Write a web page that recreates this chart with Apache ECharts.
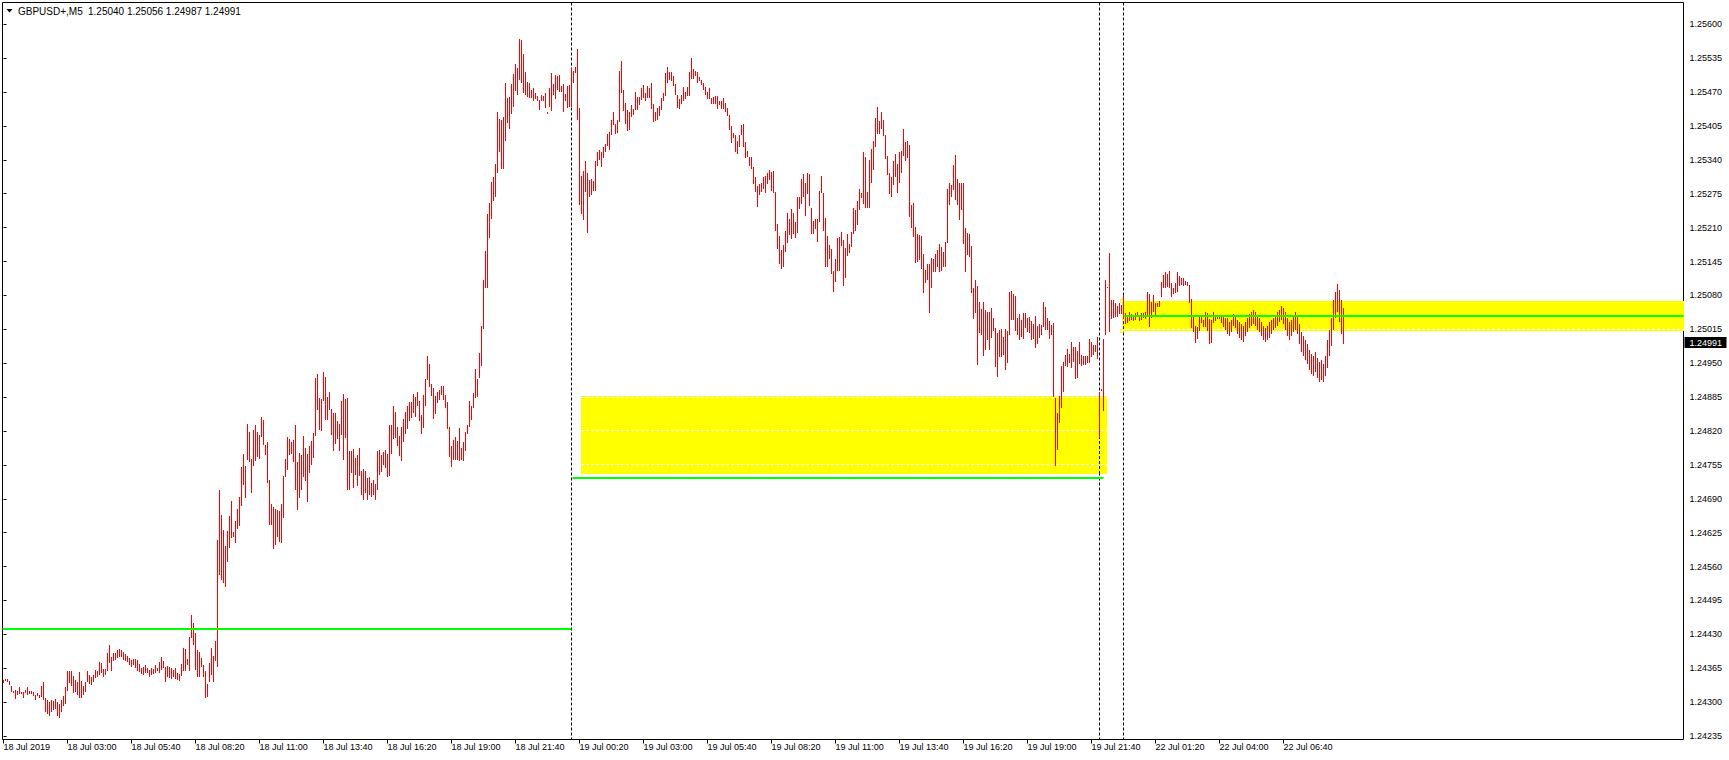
<!DOCTYPE html>
<html>
<head>
<meta charset="utf-8">
<title>GBPUSD+,M5</title>
<script src="https://cdn.jsdelivr.net/npm/echarts@6.0.0/dist/echarts.min.js"></script>
<style>
html,body{margin:0;padding:0;background:#fff;overflow:hidden}
#chart{width:1729px;height:760px}
</style>
</head>
<body>
<div id="chart"></div>
<script>
// ---------------- data ----------------
const symbolLabel = 'GBPUSD+,M5';
const ohlcLabel = '1.25040 1.25056 1.24987 1.24991';
const lastPrice = 1.24991;
// bar values are given in points (0.00001) above 1.20000; bar index 0 = 18 Jul 2019 00:20, 5-minute bars
const PRICE_BASE = 1.2;
const POINT = 0.00001;
const highPts = [
4343,4344,4345,4341,4331,4322,4324,4322,4329,4319,
4320,4324,4329,4322,4322,4319,4314,4317,4314,4331,
4339,4308,4304,4300,4304,4302,4306,4300,4297,4304,
4311,4329,4360,4360,4360,4350,4343,4339,4357,4341,
4331,4339,4360,4352,4349,4352,4362,4360,4376,4375,
4364,4364,4395,4409,4386,4394,4395,4400,4402,4399,
4396,4392,4389,4384,4381,4382,4383,4380,4373,4365,
4367,4372,4365,4362,4365,4363,4372,4365,4376,4386,
4378,4368,4370,4367,4365,4362,4365,4356,4354,4373,
4403,4402,4383,4424,4467,4451,4432,4400,4396,4384,
4371,4360,4334,4375,4403,4389,4418,4610,4707,4658,
4630,4600,4629,4656,4686,4627,4648,4671,4694,4750,
4776,4752,4834,4819,4766,4822,4832,4818,4813,4847,
4841,4793,4798,4726,4680,4674,4671,4669,4667,4680,
4733,4767,4809,4805,4798,4802,4832,4761,4777,4774,
4811,4787,4776,4791,4801,4816,4922,4930,4883,4882,
4933,4924,4886,4895,4862,4855,4854,4839,4834,4878,
4891,4882,4884,4782,4782,4786,4769,4774,4787,4744,
4747,4744,4730,4731,4721,4726,4718,4782,4784,4774,
4779,4784,4776,4832,4832,4868,4856,4828,4811,4828,
4843,4856,4868,4876,4876,4891,4885,4894,4878,4850,
4889,4920,4964,4949,4910,4902,4888,4894,4899,4907,
4906,4889,4875,4827,4792,4802,4808,4800,4825,4788,
4798,4819,4832,4878,4868,4892,4939,4920,4969,5022,
5110,5165,5236,5258,5298,5307,5332,5431,5418,5417,
5422,5488,5458,5460,5486,5504,5524,5517,5572,5570,
5543,5509,5490,5488,5474,5478,5469,5463,5455,5464,
5463,5468,5431,5478,5507,5485,5503,5500,5503,5482,
5485,5466,5482,5484,5517,5511,5518,5553,5439,5309,
5319,5338,5315,5302,5303,5300,5338,5356,5359,5356,
5364,5371,5390,5394,5417,5431,5409,5417,5511,5530,
5474,5449,5436,5431,5445,5438,5471,5460,5461,5478,
5484,5469,5482,5478,5488,5447,5432,5440,5444,5459,
5469,5507,5518,5509,5509,5500,5486,5464,5457,5464,
5480,5470,5480,5509,5535,5514,5511,5509,5498,5493,
5488,5480,5471,5477,5458,5461,5463,5463,5452,5452,
5459,5450,5439,5426,5405,5392,5388,5376,5388,5406,
5408,5375,5357,5346,5346,5327,5308,5290,5294,5296,
5308,5309,5315,5321,5317,5319,5279,5217,5194,5167,
5177,5204,5238,5227,5246,5238,5220,5268,5268,5303,
5312,5295,5315,5313,5248,5223,5227,5227,5281,5309,
5277,5229,5194,5176,5169,5127,5150,5191,5192,5202,
5186,5171,5198,5179,5202,5248,5244,5262,5284,5276,
5356,5345,5278,5339,5361,5376,5421,5442,5415,5431,
5417,5388,5348,5315,5308,5338,5351,5332,5356,5357,
5399,5375,5376,5369,5254,5258,5212,5198,5196,5194,
5159,5129,5140,5140,5151,5149,5159,5167,5179,5172,
5164,5182,5284,5296,5292,5330,5349,5303,5296,5296,
5296,5209,5199,5198,5175,5095,5110,5099,5068,5054,
5068,5052,5048,5049,5055,5036,5017,5008,5014,5016,
5001,5016,5012,5086,5089,5083,5079,5037,5045,5032,
5046,5047,5036,5038,5031,5025,5041,5022,5025,5023,
5068,5057,5036,5031,5023,5028,4884,4855,4887,4945,
4952,4965,4977,4967,4990,4982,4981,4974,4990,4965,
4963,4964,4964,4997,4991,4984,4985,5001,4894,4900,
4997,5110,5097,5162,5071,5071,5066,5060,5065,5062,
5080,5047,5039,5049,5044,5039,5046,5049,5043,5047,
5046,5049,5087,5082,5068,5080,5066,5065,5069,5105,
5119,5125,5121,5127,5103,5095,5103,5124,5118,5113,
5113,5108,5105,5100,5073,5038,5022,5019,5043,5043,
5033,5049,5047,5034,5033,5048,5043,5043,5043,5043,
5039,5037,5037,5029,5033,5045,5041,5033,5029,5025,
5022,5029,5037,5045,5048,5052,5048,5041,5037,5029,
5022,5018,5022,5029,5033,5037,5041,5048,5052,5060,
5056,5048,5037,5029,5033,5041,5048,5041,5025,5010,
5002,4995,4987,4976,4968,4964,4972,4960,4953,4956,
4949,4964,4995,5014,5037,5071,5087,5102,5091,5071,5056
];
const lowPts = [
4336,4341,4338,4333,4319,4317,4306,4314,4315,4315,
4308,4317,4314,4315,4316,4312,4304,4311,4308,4310,
4304,4281,4278,4274,4281,4285,4287,4274,4270,4281,
4293,4297,4322,4336,4330,4317,4320,4314,4308,4308,
4314,4320,4339,4334,4333,4339,4346,4349,4352,4356,
4349,4352,4359,4375,4359,4378,4381,4384,4387,4386,
4381,4379,4376,4372,4368,4372,4366,4360,4357,4354,
4352,4356,4356,4348,4352,4354,4356,4359,4356,4362,
4365,4339,4349,4347,4344,4349,4344,4343,4341,4351,
4360,4359,4372,4360,4423,4410,4362,4349,4349,4368,
4349,4308,4309,4339,4352,4339,4378,4368,4544,4535,
4528,4520,4568,4595,4614,4616,4606,4632,4637,4676,
4717,4692,4765,4761,4701,4752,4763,4771,4766,4808,
4793,4774,4721,4640,4639,4594,4602,4616,4608,4606,
4654,4731,4745,4774,4776,4761,4706,4669,4692,4707,
4731,4724,4683,4740,4755,4769,4811,4860,4822,4820,
4878,4841,4841,4860,4813,4781,4795,4805,4782,4813,
4765,4806,4707,4707,4739,4711,4736,4715,4733,4697,
4688,4701,4688,4697,4694,4697,4688,4707,4736,4742,
4755,4749,4731,4733,4776,4805,4806,4791,4772,4763,
4798,4814,4823,4840,4844,4855,4846,4867,4839,4814,
4825,4867,4917,4905,4887,4843,4852,4874,4880,4889,
4880,4864,4823,4771,4750,4765,4765,4765,4763,4765,
4763,4782,4814,4827,4841,4865,4883,4886,4922,4945,
5015,5095,5095,5190,5227,5262,5269,5314,5356,5323,
5322,5377,5410,5399,5427,5442,5472,5464,5493,5487,
5469,5464,5461,5459,5458,5452,5457,5452,5436,5452,
5452,5439,5428,5442,5434,5464,5457,5474,5471,5471,
5431,5453,5440,5442,5442,5488,5507,5417,5254,5236,
5225,5279,5200,5268,5273,5281,5281,5328,5340,5327,
5344,5356,5367,5358,5388,5407,5390,5391,5413,5469,
5434,5409,5396,5397,5423,5426,5436,5436,5445,5455,
5459,5452,5458,5459,5438,5413,5415,5417,5425,5436,
5453,5463,5488,5493,5491,5482,5464,5440,5438,5447,
5453,5456,5463,5463,5496,5496,5500,5488,5492,5484,
5474,5464,5456,5456,5447,5447,5447,5438,5445,5438,
5438,5432,5424,5397,5373,5381,5356,5351,5365,5388,
5365,5344,5346,5328,5322,5294,5279,5250,5273,5279,
5284,5277,5293,5302,5280,5276,5204,5169,5140,5131,
5135,5164,5181,5196,5188,5198,5191,5199,5246,5255,
5268,5233,5275,5252,5198,5198,5207,5183,5220,5276,
5204,5135,5135,5150,5121,5087,5105,5127,5126,5174,
5099,5113,5156,5161,5172,5198,5204,5215,5244,5266,
5255,5247,5248,5248,5296,5321,5364,5390,5389,5399,
5385,5342,5311,5275,5269,5292,5307,5277,5295,5315,
5348,5337,5344,5231,5209,5192,5142,5145,5148,5131,
5085,5103,5110,5047,5094,5124,5124,5135,5124,5126,
5135,5135,5181,5254,5268,5282,5263,5254,5225,5244,
5178,5125,5158,5154,5085,5035,5047,4947,5008,5004,
4963,4976,4995,4976,4998,5012,4942,4923,4961,4961,
4966,4937,4950,5004,5032,5032,5011,5004,4995,5001,
4997,5017,5009,5008,4995,4997,4980,4987,4998,5004,
5020,5014,5014,4996,5004,4886,4753,4784,4835,4865,
4894,4944,4942,4950,4940,4953,4919,4921,4949,4945,
4947,4947,4950,4950,4962,4966,4972,4958,4807,4897,
4859,5004,5094,5009,5034,5036,5038,5039,5045,5045,
5034,5025,5027,5030,5033,5031,5032,5039,5030,5033,
5036,5035,5039,5020,5037,5048,5041,5057,5057,5077,
5094,5095,5097,5095,5077,5082,5084,5087,5099,5100,
5099,5100,5099,5066,5017,5009,4988,4997,5011,5027,
5020,5020,5011,4986,4988,5027,5030,5034,5034,5027,
5019,5014,5006,5002,5010,5022,5018,5006,4999,4995,
4991,5002,5010,5018,5022,5025,5022,5014,5010,5002,
4995,4991,4995,4999,5006,5014,5018,5022,5029,5033,
5025,5014,5002,4995,5002,5010,5014,5006,4987,4972,
4964,4956,4949,4937,4929,4926,4933,4922,4914,4918,
4914,4926,4941,4964,4983,5014,5037,5048,5029,5006,4987
];
const yTickValues = [1.24235,1.24300,1.24365,1.24430,1.24495,1.24560,1.24625,1.24690,1.24755,1.24820,1.24885,
                     1.24950,1.25015,1.25080,1.25145,1.25210,1.25275,1.25340,1.25405,1.25470,1.25535,1.25600];
const xTickBars = [0,32,64,96,128,160,192,224,256,288,320,352,384,416,448,480,512,544,576,608,640];
const xTickLabels = ['18 Jul 2019','18 Jul 03:00','18 Jul 05:40','18 Jul 08:20','18 Jul 11:00','18 Jul 13:40',
  '18 Jul 16:20','18 Jul 19:00','18 Jul 21:40','19 Jul 00:20','19 Jul 03:00','19 Jul 05:40','19 Jul 08:20',
  '19 Jul 11:00','19 Jul 13:40','19 Jul 16:20','19 Jul 19:00','19 Jul 21:40','22 Jul 01:20','22 Jul 04:00','22 Jul 06:40'];
// visible window (bars) and price window of the chart
const X_MIN = -0.5, X_MAX = 840;
const Y_MIN = 1.242283, Y_MAX = 1.256418;
// drawn objects
const levelLines = [
  {from: X_MIN, to: 284, price: 1.24440},
  {from: 284.5, to: 550, price: 1.24730},
  {from: 560, to: X_MAX, price: 1.25041}
];
const zones = [
  {from: 288.75, to: 551.6, top: 1.24887, bottom: 1.24738, handles: false},
  {from: 559.1, to: X_MAX, top: 1.25069, bottom: 1.25011, handles: true}
];
const separators = [284, 548, 560];

// ---------------- styles ----------------
const BAR_COLOR = '#ff0000';
const LEVEL_COLOR = '#00ff00';
const ZONE_COLOR = '#ffff00';
const FONT = 'Liberation Sans, Arial, sans-serif';

const n = Math.min(highPts.length, lowPts.length);
const barData = [];
for (let i = 0; i < n; i++) {
  barData.push([i, +(PRICE_BASE + highPts[i] * POINT).toFixed(5), +(PRICE_BASE + lowPts[i] * POINT).toFixed(5)]);
}
const snap = v => Math.round(v - 0.5) + 0.5;

const chart = echarts.init(document.getElementById('chart'), null, {renderer: 'svg'});

const option = {
  animation: false,
  backgroundColor: '#ffffff',
  grid: {left: 2.5, right: 45.5, top: 2.5, bottom: 20.5, show: true, borderColor: '#000000', borderWidth: 1, backgroundColor: 'transparent'},
  xAxis: {
    type: 'value', min: X_MIN, max: X_MAX,
    axisLine: {show: false},
    splitLine: {show: false},
    axisTick: {show: true, length: 4, customValues: xTickBars, lineStyle: {color: '#000', width: 1}},
    axisLabel: {
      customValues: xTickBars,
      formatter: v => { const k = xTickBars.indexOf(Math.round(v)); return k >= 0 ? xTickLabels[k] : ''; },
      color: '#000', fontFamily: FONT, fontSize: 9, align: 'left', margin: 3, padding: [0, 0, 0, 0]
    }
  },
  yAxis: {
    type: 'value', position: 'right', min: Y_MIN, max: Y_MAX,
    axisLine: {show: false},
    splitLine: {show: false},
    axisTick: {show: true, length: 3, customValues: yTickValues, lineStyle: {color: '#000', width: 1}},
    axisLabel: {
      customValues: yTickValues,
      formatter: v => v.toFixed(5),
      color: '#000', fontFamily: FONT, fontSize: 9, margin: 6
    }
  },
  series: [
    {
      type: 'custom', name: 'zones', z: 1, clip: true, silent: true,
      data: zones.map((z, i) => [i, z.from, z.to, z.top, z.bottom]),
      renderItem: (params, api) => {
        const z = zones[params.dataIndex];
        const p1 = api.coord([z.from, z.top]);
        const p2 = api.coord([z.to, z.bottom]);
        const x1 = Math.round(p1[0]), x2 = Math.round(p2[0]);
        const y1 = Math.round(p1[1]), y2 = Math.round(p2[1]);
        const children = [{type: 'rect', shape: {x: x1, y: y1, width: x2 - x1, height: y2 - y1}, style: {fill: ZONE_COLOR}}];
        yTickValues.forEach(t => {
          if (t <= z.top && t >= z.bottom) {
            const y = snap(api.coord([0, t])[1]);
            children.push({type: 'line', shape: {x1: x1, y1: y, x2: x2, y2: y}, style: {stroke: '#ffffff', lineWidth: 1, lineDash: [3, 2]}});
          }
        });
        if (z.handles) {
          [y1, y2].forEach(yy => children.push({type: 'rect', shape: {x: x1 - 1.5, y: yy - 1.5, width: 3, height: 3}, style: {fill: '#ffffff', stroke: ZONE_COLOR, lineWidth: 1}}));
        }
        return {type: 'group', children};
      }
    },
    {
      type: 'custom', name: 'separators', z: 2, clip: true, silent: true,
      data: separators.map(s => [s]),
      renderItem: (params, api) => {
        const s = separators[params.dataIndex];
        const x = snap(api.coord([s, Y_MAX])[0]);
        const yt = api.coord([s, Y_MAX])[1], yb = api.coord([s, Y_MIN])[1];
        const children = [{type: 'line', shape: {x1: x, y1: yt, x2: x, y2: yb}, style: {stroke: '#000000', lineWidth: 1, lineDash: [3, 2]}}];
        zones.forEach(z => {
          if (s >= z.from && s <= z.to) {
            const a = api.coord([s, z.top])[1], b = api.coord([s, z.bottom])[1];
            children.push({type: 'line', shape: {x1: x, y1: a, x2: x, y2: b}, style: {stroke: ZONE_COLOR, lineWidth: 1}});
            children.push({type: 'line', shape: {x1: x, y1: a, x2: x, y2: b}, style: {stroke: '#0000ff', lineWidth: 1, lineDash: [3, 2]}});
          }
        });
        return {type: 'group', children};
      }
    },
    {
      type: 'custom', name: 'GBPUSD+ M5', z: 3, clip: true, silent: true,
      encode: {x: 0, y: [1, 2]},
      data: barData,
      renderItem: (params, api) => {
        const i = api.value(0);
        const hi = api.coord([i, api.value(1)]);
        const lo = api.coord([i, api.value(2)]);
        const x = snap(hi[0]);
        let y1 = Math.round(hi[1]), y2 = Math.round(lo[1]);
        if (y2 - y1 < 1) y2 = y1 + 1;
        return {type: 'line', shape: {x1: x, y1: y1, x2: x, y2: y2}, style: {stroke: BAR_COLOR, lineWidth: 1}};
      }
    },
    {
      type: 'custom', name: 'levels', z: 4, clip: true, silent: true,
      data: levelLines.map((l, i) => [i]),
      renderItem: (params, api) => {
        const l = levelLines[params.dataIndex];
        const a = api.coord([l.from, l.price]);
        const b = api.coord([l.to, l.price]);
        const y = Math.round(a[1]);
        return {type: 'line', shape: {x1: a[0], y1: y, x2: b[0], y2: y}, style: {stroke: LEVEL_COLOR, lineWidth: 2}};
      }
    }
  ]
};
chart.setOption(option);

// header text and last-price tag
const lastY = chart.convertToPixel({yAxisIndex: 0}, lastPrice);
const axisX = chart.convertToPixel({xAxisIndex: 0}, X_MAX);
chart.setOption({
  graphic: [
    {type: 'polygon', shape: {points: [[6.5, 9], [12.5, 9], [9.5, 12.5]]}, style: {fill: '#000'}, z: 10},
    {type: 'text', x: 18, y: 11, style: {text: symbolLabel, fill: '#000', font: '10px ' + FONT, textVerticalAlign: 'middle'}, z: 10},
    {type: 'text', x: 88, y: 11, style: {text: ohlcLabel, fill: '#000', font: '10px ' + FONT, textVerticalAlign: 'middle'}, z: 10},
    {type: 'rect', shape: {x: axisX + 1, y: Math.round(lastY) - 5, width: 42, height: 11}, style: {fill: '#000'}, z: 10},
    {type: 'text', x: axisX + 6, y: Math.round(lastY) + 0.5, style: {text: lastPrice.toFixed(5), fill: '#fff', font: '9px ' + FONT, textVerticalAlign: 'middle'}, z: 11}
  ]
});
</script>
</body>
</html>
